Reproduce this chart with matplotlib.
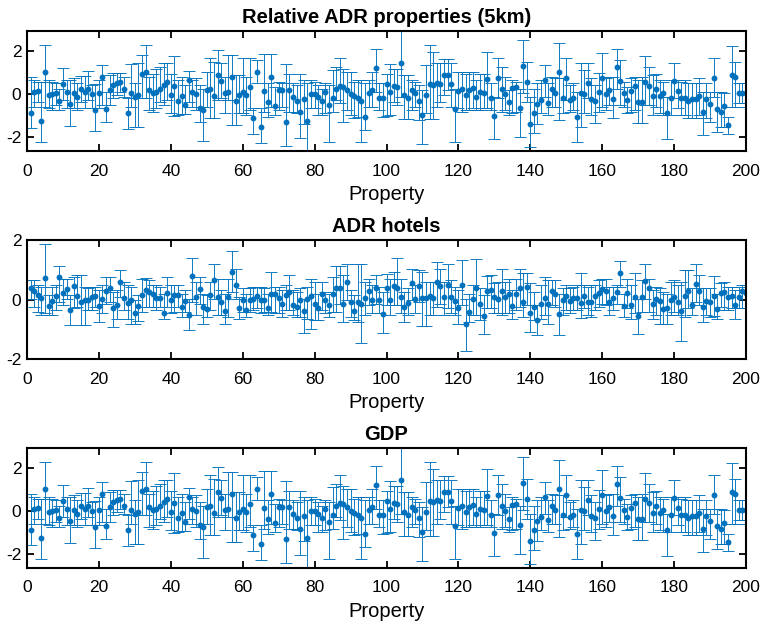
import numpy as np
import matplotlib
matplotlib.use("Agg")
import matplotlib.pyplot as plt

plt.rcParams['font.family'] = ['Liberation Sans', 'DejaVu Sans']
plt.rcParams['axes.unicode_minus'] = False

# ---------------- data ----------------
titles = ["Relative ADR properties (5km)", "ADR hotels", "GDP"]
x_label = "Property"
x_ticks = [0, 20, 40, 60, 80, 100, 120, 140, 160, 180, 200]
y_ticks = [-2, 0, 2]

# Relative ADR properties (5km) -- point estimates
adr_prop = [
 -0.86, 0.12, 0.15, -1.25, 1.05, -0.02, 0.02, 0.07, -0.32, 0.50,
 0.09, -0.46, 0.07, -0.13, 0.24, 0.10, 0.24, 0.00, -0.75, 0.04,
 0.80, -0.67, 0.20, 0.44, 0.55, 0.57, 0.27, -0.87, 0.04, -0.13,
 -0.02, 0.94, 1.05, 0.21, 0.04, 0.10, 0.27, 0.44, 0.58, -0.04,
 0.37, -0.32, -0.07, -0.50, 0.66, 0.10, 0.01, -0.64, -0.72, 0.20,
 0.26, -0.07, 0.88, 0.61, 0.07, 0.09, 0.82, -0.29, -0.04, 0.09,
 -0.05, 0.34, -1.11, 1.05, -1.51, 0.15, -0.38, 0.80, -0.53, 0.20,
 0.20, -1.28, 0.21, -0.13, -0.30, -0.81, -0.22, -1.23, 0.01, 0.00,
 -0.11, -0.33, 0.13, -0.49, -0.19, 0.26, 0.41, 0.34, 0.20, 0.02,
 -0.07, -0.16, -0.30, -1.06, 0.06, 0.21, 1.23, -0.19, -0.19, 0.46,
 0.10, 0.38, 0.33, 1.44, -0.01, -0.18, 0.18, 0.07, -0.30, -0.97,
 -0.04, 0.50, 0.43, 0.55, 0.50, 0.91, 0.92, 0.50, -0.70, 0.16,
 0.26, -0.05, 0.20, 0.30, -0.11, 0.09, 0.04, 0.72, -0.16, -1.01,
 0.75, 0.26, 0.00, -0.36, 0.30, 0.32, -0.63, 1.34, 0.58, -1.39,
 -0.87, -0.46, -0.27, 0.69, -0.39, 0.26, 0.07, 1.05, -0.19, 0.77,
 -0.27, -0.18, -1.06, 0.04, 0.00, 0.55, -0.21, -0.30, 0.10, 0.74,
 0.00, 0.18, -0.21, 1.26, 0.63, 0.05, -0.26, 0.16, 0.38, -0.36,
 -0.35, 0.57, 0.38, -0.07, 0.23, -0.10, 0.04, -0.86, -0.18, 0.63,
 0.16, -0.16, -0.18, -0.30, -0.24, -0.24, -0.08, -0.81, -0.21, -0.44,
 0.77, -0.67, -0.81, -0.56, -1.42, 0.89, 0.83, 0.05, 0.05, 0.04]
adr_prop_hi = [
 0.82, 0.66, 0.58, 0.58, 2.29, 0.66, 0.58, 0.51, 0.27, 1.23,
 0.66, 0.66, 0.74, 0.51, 0.85, 0.85, 1.08, 0.43, 0.46, 0.66,
 1.36, 0.12, 0.89, 1.00, 1.00, 1.00, 0.82, -0.19, 1.39, 0.51,
 1.44, 1.84, 2.29, 0.82, 0.97, 1.20, 1.28, 1.44, 1.44, 0.97,
 1.78, 0.66, 0.82, 0.43, 1.08, 0.66, 0.74, 0.43, 0.27, 1.05,
 1.67, 1.51, 2.06, 1.47, 0.82, 1.85, 1.85, 0.89, 0.89, 1.67,
 0.82, 1.67, -0.66, 1.62, -0.66, 1.90, 0.51, 1.90, 0.35, 0.58,
 0.51, 1.39, 0.97, 0.51, 0.43, 0.94, 0.66, 0.51, 0.69, 0.58,
 0.43, 0.27, 0.51, 0.43, 1.13, 1.28, 1.71, 1.16, 1.05, 1.05,
 0.58, 0.66, 0.66, 0.51, 0.66, 1.02, 2.13, 0.51, 0.55, 0.97,
 1.39, 1.16, 1.16, 2.94, 0.92, 0.92, 0.66, 0.58, 0.43, 0.20,
 1.36, 2.32, 1.98, 1.44, 1.44, 1.64, 1.64, 1.44, 0.27, 1.05,
 1.05, 0.97, 1.05, 1.05, 0.66, 0.97, 0.97, 1.98, 0.51, -0.11,
 1.67, 1.28, 0.82, 0.20, 0.66, 0.58, 0.27, 2.52, 1.51, -0.11,
 0.27, 0.51, 0.66, 1.36, 0.51, 0.82, 0.74, 2.37, 0.74, 1.70,
 0.43, 0.51, 0.12, 1.44, 1.13, 1.44, 0.74, 0.43, 1.00, 1.93,
 0.74, 0.82, 0.82, 2.10, 1.59, 0.58, 0.35, 0.74, 0.82, 0.66,
 0.82, 1.78, 1.25, 0.89, 0.97, 0.66, 0.58, -0.11, 0.66, 1.44,
 0.69, 0.58, 0.66, 0.51, 0.54, 0.51, 0.74, 0.12, 0.51, 0.12,
 1.70, 0.12, 0.12, 0.04, -1.04, 2.26, 1.51, 0.51, 0.51, 0.51]
adr_prop_lo = [
 -1.59, -0.58, -0.35, -2.21, -0.58, -0.66, -0.73, -0.50, -0.73, -0.27,
 -0.66, -1.49, -0.66, -0.73, -0.35, -0.66, -0.27, -0.66, -1.70, -0.66,
 -0.50, -1.31, -0.50, -0.19, -0.04, 0.12, -0.11, -1.60, -0.58, -1.51,
 -1.51, -0.19, -0.19, -0.73, -0.81, -0.66, -0.35, -0.50, -0.27, -0.89,
 -1.01, -0.97, -0.92, -0.92, -0.35, -0.58, -0.73, -1.28, -2.18, -0.58,
 -1.12, -1.12, -0.27, -0.19, -0.89, -0.27, -1.43, -1.43, -0.89, -0.89,
 -0.97, -0.73, -1.87, 0.51, -2.29, -0.81, -1.04, -0.58, -0.97, -0.73,
 -0.58, -2.41, -0.81, -0.81, -0.89, -2.02, -1.36, -2.63, -0.66, -0.66,
 -0.97, -0.97, -0.89, -2.21, -0.81, -0.27, -0.42, -1.28, -0.73, -0.97,
 -1.12, -1.04, -2.24, -1.67, -0.58, -0.58, 0.12, -0.73, -1.04, -1.00,
 -0.97, -0.35, -0.50, -0.11, -1.17, -1.17, -0.73, -0.58, -1.20, -2.33,
 -0.89, -1.17, -1.17, -0.58, -0.35, -0.04, 0.20, -0.58, -2.21, -0.66,
 -0.81, -0.73, -0.73, -0.66, -0.73, -0.73, -0.66, -0.66, -0.73, -2.10,
 -0.19, -0.81, -0.73, -0.97, -0.89, -0.81, -1.98, 0.04, -0.35, -2.44,
 -1.82, -1.36, -0.89, -0.11, -0.98, -0.58, -0.58, -1.20, -0.89, -0.27,
 -0.81, -0.73, -2.21, -1.51, -0.89, -0.19, -0.97, -1.32, -0.81, -0.58,
 -0.73, -0.50, -1.12, 0.27, -0.50, -0.58, -0.89, -0.81, -0.73, -1.32,
 -1.32, -0.50, -0.50, -0.97, -0.58, -0.89, -0.97, -2.10, -0.97, -0.19,
 -0.66, -0.97, -0.97, -1.12, -1.08, -1.08, -0.97, -1.90, -1.12, -1.28,
 -0.11, -1.74, -1.51, -1.51, -1.85, -0.58, -0.58, -0.42, -0.42, -0.58]

# ADR hotels
adr_hotels = [
 0.40, 0.29, 0.14, 0.05, 0.73, -0.23, -0.05, 0.11, 0.75, 0.22,
 0.36, -0.35, 0.45, 0.12, -0.08, -0.03, 0.00, 0.07, 0.12, -0.23,
 0.02, 0.28, 0.37, -0.28, -0.20, 0.58, 0.05, -0.11, 0.00, -0.47,
 -0.21, 0.14, 0.33, 0.25, 0.19, 0.05, 0.05, -0.44, 0.22, 0.00,
 0.14, 0.14, -0.26, -0.05, -0.51, 0.78, 0.07, 0.35, -0.25, -0.31,
 0.14, 0.67, 0.08, -0.08, -0.38, 0.09, 0.93, 0.48, -0.28, -0.03,
 -0.34, -0.03, 0.03, 0.11, -0.01, -0.01, -0.27, 0.19, 0.17, 0.05,
 -0.14, 0.14, 0.26, -0.18, -0.24, -0.02, -0.40, 0.03, 0.11, -0.14,
 -0.28, 0.19, -0.03, -0.20, 0.19, 0.40, 0.37, -0.14, 0.58, -0.08,
 -0.37, -0.08, -0.14, 0.04, 0.30, -0.03, 0.39, -0.03, -0.49, 0.40,
 -0.01, 0.46, 0.40, 0.10, -0.26, -0.12, 0.55, 0.03, 0.46, 0.05,
 0.05, 0.11, 0.05, 0.59, 0.45, 0.07, 0.48, 0.08, -0.05, -0.28,
 0.48, -0.82, -0.43, 0.03, 0.37, -0.16, -0.54, 0.28, 0.31, 0.09,
 0.02, 0.27, 0.09, 0.18, -0.23, 0.20, 0.37, -0.08, 0.42, -0.45,
 -0.25, -0.70, -0.16, 0.05, -0.14, 0.28, 0.17, -0.48, -0.02, 0.11,
 -0.06, 0.05, 0.05, -0.11, 0.12, -0.08, -0.08, 0.11, 0.21, 0.35,
 0.28, -0.08, 0.05, 0.26, 0.90, -0.22, 0.23, -0.18, 0.10, -0.54,
 0.10, 0.63, 0.38, -0.14, 0.01, -0.06, -0.31, -0.28, -0.02, 0.09,
 -0.09, -0.39, 0.12, 0.27, -0.17, 0.53, 0.27, -0.24, -0.06, -0.08,
 0.13, -0.31, 0.23, 0.26, 0.07, 0.11, -0.17, 0.09, 0.30, 0.22]
adr_hotels_hi = [
 0.67, 0.65, 0.48, 0.42, 1.86, 0.14, 0.42, 0.48, 1.13, 0.70,
 0.70, 0.14, 0.76, 0.82, 0.82, 0.42, 0.37, 0.42, 0.42, 0.31,
 0.48, 0.76, 0.76, 0.26, 0.31, 0.98, 0.59, 0.48, 0.42, -0.02,
 0.14, 0.70, 0.73, 0.65, 0.48, 0.48, 0.42, 0.20, 0.76, 0.48,
 0.50, 0.50, 0.20, 0.31, 0.03, 1.41, 0.59, 0.76, 0.20, 0.14,
 0.59, 1.18, 0.70, 0.31, 0.20, 0.70, 1.63, 1.04, 0.09, 0.37,
 0.20, 0.39, 0.42, 0.42, 0.42, 0.37, 0.20, 0.93, 0.42, 0.42,
 0.31, 0.48, 0.82, 0.31, 0.26, 0.37, 0.03, 0.42, 0.70, 0.59,
 0.20, 0.59, 0.26, 0.20, 0.76, 1.13, 1.13, 0.82, 1.18, 0.31,
 0.14, 1.18, 1.18, 0.59, 0.70, 0.48, 0.84, 0.42, 0.26, 0.87,
 0.70, 0.93, 1.38, 0.70, 0.26, 0.37, 1.04, 0.48, 0.98, 0.93,
 0.59, 0.59, 0.59, 1.26, 1.04, 0.59, 1.18, 0.65, 0.42, 0.31,
 1.32, 0.03, 0.20, 0.48, 1.35, 0.37, 0.14, 0.78, 0.84, 0.54,
 0.59, 1.01, 0.59, 0.70, 0.31, 0.70, 1.01, 0.90, 0.90, 0.54,
 0.26, -0.19, 0.48, 0.76, 0.67, 0.67, 0.67, 0.20, 0.37, 0.48,
 0.37, 0.42, 0.48, 0.90, 0.48, 0.42, 0.48, 0.48, 0.67, 0.70,
 0.70, 0.42, 0.42, 0.48, 1.30, 0.20, 0.70, 0.48, 0.90, 0.03,
 0.65, 1.21, 0.70, 0.31, 0.42, 0.37, 0.26, 0.20, 0.59, 0.65,
 0.48, 0.59, 0.98, 0.98, 0.37, 1.21, 0.82, 0.37, 0.37, 0.37,
 0.79, 0.20, 0.57, 0.59, 0.42, 0.42, 0.31, 0.42, 0.50, 0.48]
adr_hotels_lo = [
 0.03, -0.25, -0.42, -0.53, -0.47, -0.53, -0.53, -0.36, -0.08, -0.19,
 0.03, -0.86, -0.30, -0.25, -0.86, -0.86, -0.36, -0.36, -0.25, -0.75,
 -0.47, -0.14, -0.08, -0.92, -0.64, 0.09, -0.36, -0.64, -0.84, -0.84,
 -0.73, -0.42, -0.25, -0.25, -0.25, -0.36, -0.25, -0.67, -0.25, -0.47,
 -0.42, -0.25, -0.58, -0.42, -1.01, -0.08, -0.53, -0.14, -0.81, -0.58,
 -0.36, 0.03, -0.53, -0.53, -0.81, -0.58, 0.26, 0.03, -0.64, -0.42,
 -0.58, -0.42, -0.36, -0.30, -0.47, -0.42, -0.53, -0.42, -0.47, -0.47,
 -0.58, -0.36, -0.36, -0.53, -0.58, -0.58, -1.14, -0.64, -0.98, -0.70,
 -0.70, -0.36, -0.47, -0.58, -0.42, -0.42, -0.14, -0.75, -0.02, -0.58,
 -0.70, -0.75, -1.46, -0.53, -0.19, -0.47, -0.14, -0.47, -1.11, -0.19,
 -0.53, -0.19, -0.19, -0.47, -0.77, -0.53, -0.02, -0.47, -0.08, -0.90,
 -0.90, -0.53, -0.53, -0.25, -0.14, -0.53, -0.30, -0.47, -0.53, -0.81,
 -0.19, -1.74, -0.75, -0.53, -0.53, -0.70, -1.17, -0.30, -0.30, -0.47,
 -0.47, -0.53, -0.47, -0.47, -0.64, -0.36, -0.25, -0.58, -0.19, -1.09,
 -0.70, -1.20, -0.64, -0.53, -0.84, -0.19, -0.25, -1.18, -0.53, -0.36,
 -0.47, -0.36, -0.36, -0.62, -0.30, -0.53, -0.58, -0.36, -0.25, -0.14,
 -0.19, -0.53, -0.36, -0.14, 0.42, -0.58, -0.30, -0.64, -0.47, -1.17,
 -0.42, 0.03, -0.42, -0.64, -0.53, -0.81, -0.84, -0.84, -0.53, -0.42,
 -0.53, -1.39, -0.58, -0.30, -0.53, -0.08, -0.19, -0.75, -0.53, -0.58,
 -0.56, -0.64, -0.25, -0.36, -0.36, -0.30, -0.64, -0.30, -0.30, -0.30]

# GDP panel (identical values to the first panel in the reference)
gdp = adr_prop
gdp_hi = adr_prop_hi
gdp_lo = adr_prop_lo

series = [(adr_prop, adr_prop_lo, adr_prop_hi),
          (adr_hotels, adr_hotels_lo, adr_hotels_hi),
          (gdp, gdp_lo, gdp_hi)]
ylims = [(-2.64, 2.95), (-2, 2), (-2.64, 2.95)]

# ---------------- plot ----------------
W, H = 766, 624
fig = plt.figure(figsize=(W / 100, H / 100), dpi=100)
color = '#0072BD'
# axes boxes in pixels: (top, bottom)
boxes = [(31, 151), (240, 359), (448, 568)]
left_px, right_px = 27, 746

for (vals, lo, hi), title, ylim, (top, bot) in zip(series, titles, ylims, boxes):
    ax = fig.add_axes([left_px / W, 1 - bot / H, (right_px - left_px) / W, (bot - top) / H])
    x = np.arange(1, len(vals) + 1)
    v = np.array(vals)
    err = np.vstack([v - np.array(lo), np.array(hi) - v])
    ax.errorbar(x, v, yerr=err, fmt='o', color=color, ecolor=color,
                markersize=3.2, elinewidth=0.65, capsize=4.5, capthick=0.65,
                clip_on=True)
    ax.set_xlim(0, 200)
    ax.set_ylim(*ylim)
    ax.set_xticks(x_ticks)
    ax.set_yticks(y_ticks)
    ax.set_title(title, fontsize=14.5, fontweight='bold', pad=6)
    ax.set_xlabel(x_label, fontsize=14.5, labelpad=5)
    ax.tick_params(direction='in', length=5, width=1.3, top=True, right=True,
                   labelsize=12.5)
    ax.tick_params(axis='x', pad=9)
    ax.tick_params(axis='y', pad=4)
    for s in ax.spines.values():
        s.set_linewidth(1.5)

fig.savefig('out.png', dpi=100)
